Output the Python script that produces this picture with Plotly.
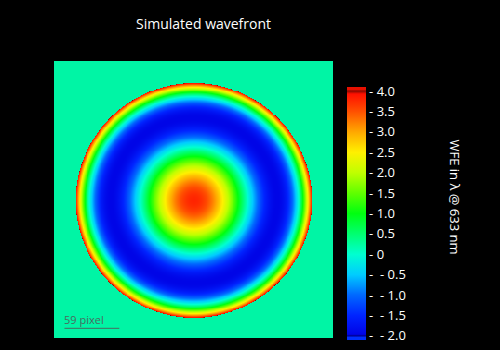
import numpy as np
import plotly.graph_objects as go

# Wavefront model: Zernike coefficients in waves (lambda = 633 nm)
zernike_terms = ["defocus", "spherical"]
zernike_coeffs = [0.1, 3.9]

grid_size = 300               # detector pixels per side
pupil_center = [150.0, 150.5]  # x, y in pixels
pupil_radius = 127.0          # pixels
scale_bar_pixels = 59

cbar_tickvals = [4.0, 3.5, 3.0, 2.5, 2.0, 1.5, 1.0, 0.5, 0.0, -0.5, -1.0, -1.5, -2.0]
cbar_ticklabels = ["4.0", "3.5", "3.0", "2.5", "2.0", "1.5", "1.0", "0.5", "0",
                   "-0.5", "-1.0", "-1.5", "-2.0"]

z_min, z_max = -2.1, 4.1

# colour stops in wave units
stops = [
    (-2.10, "#0030ff"), (-2.03, "#0030ff"), (-2.00, "#00008a"), (-1.96, "#0004e6"),
    (-1.50, "#0024ff"), (-1.00, "#0068ff"), (-0.50, "#00ccff"), (0.00, "#00ffd0"),
    (0.50, "#00ff70"), (1.00, "#00ff10"), (1.50, "#60ff00"), (2.00, "#c0ff00"),
    (2.50, "#fff000"), (3.00, "#ffa800"), (3.50, "#ff5000"), (3.93, "#ff1000"),
    (4.00, "#8a0a00"), (4.04, "#e81000"), (4.10, "#e81000"),
]
colorscale = [[(v - z_min) / (z_max - z_min), c] for v, c in stops]

# build wavefront map over the pupil
px = np.arange(grid_size)
X, Y = np.meshgrid(px, px)
rho = np.hypot(X - pupil_center[0], Y - pupil_center[1]) / pupil_radius
coef = dict(zip(zernike_terms, zernike_coeffs))
W = coef["defocus"] * (2 * rho**2 - 1) + coef["spherical"] * (6 * rho**4 - 6 * rho**2 + 1)
W = np.where(rho <= 1.0, W, np.nan)

# plot area in page pixels
L, T, R, B = 54, 61, 333, 339
pw, ph = R - L, B - T


def pxx(x):
    return (x - L) / pw


def pxy(y):
    return (B - y) / ph


fig = go.Figure(
    go.Heatmap(
        z=W, x=px, y=px,
        zmin=z_min, zmax=z_max,
        colorscale=colorscale,
        zsmooth=False,
        hoverongaps=False,
        colorbar=dict(
            x=pxx(347), xanchor="left", xpad=0,
            y=pxy(340), yanchor="bottom", ypad=0,
            thickness=19, thicknessmode="pixels",
            len=253, lenmode="pixels",
            outlinewidth=0,
            ticks="",
            tickmode="array",
            tickvals=cbar_tickvals,
            ticktext=[("-\u00a0\u00a0" + t.replace("-", "-\u00a0")) if t.startswith("-")
                      else "-\u00a0" + t for t in cbar_ticklabels],
            tickfont=dict(color="white", size=13, family="Open Sans"),
        ),
    )
)

# scale bar
sb_x0 = 10.75
sb_y = 289.0
fig.add_shape(type="line", x0=sb_x0, x1=sb_x0 + scale_bar_pixels, y0=sb_y, y1=sb_y,
              line=dict(color="#4a6a60", width=1))
fig.add_annotation(x=sb_x0, y=sb_y, xanchor="left", yanchor="bottom", showarrow=False,
                   text=f"{scale_bar_pixels} pixel", yshift=-1, xshift=-2,
                   font=dict(color="#4a6a60", size=11, family="Open Sans"))

fig.add_annotation(xref="paper", yref="paper", x=pxx(203), y=pxy(23), showarrow=False,
                   text="Simulated wavefront", xanchor="center", yanchor="middle",
                   font=dict(color="white", size=14, family="Open Sans"))
fig.add_annotation(xref="paper", yref="paper", x=pxx(455), y=pxy(197), showarrow=False,
                   text="WFE in λ @ 633 nm", textangle=90, xanchor="center", yanchor="middle",
                   font=dict(color="white", size=13, family="Open Sans"))

fig.update_xaxes(range=[-0.5, grid_size - 0.5], visible=False, showgrid=False)
fig.update_yaxes(range=[grid_size - 0.5, -0.5], visible=False, showgrid=False)
fig.update_layout(
    width=500, height=350,
    margin=dict(l=L, r=500 - R, t=T, b=350 - B, pad=0),
    paper_bgcolor="black",
    plot_bgcolor="#00f5a5",
    showlegend=False,
)

fig.write_html("out.html")
